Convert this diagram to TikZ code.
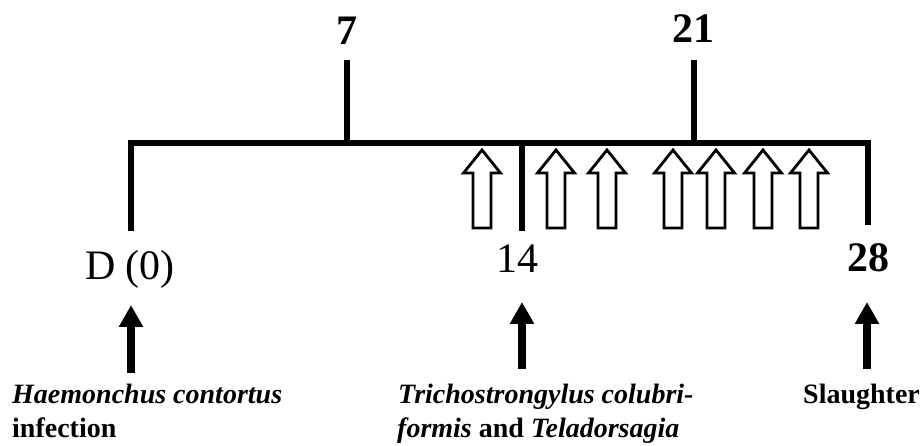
\documentclass[tikz,border=0pt]{standalone}
\usepackage{fontspec}
\setmainfont{Liberation Serif}
\usetikzlibrary{arrows.meta}
\begin{document}
\begin{tikzpicture}[x=1pt,y=-1pt,
  timeline/.style={line width=5.5pt,line join=miter,line cap=butt},
  bigarrow/.style={line width=7.5pt,-{Triangle[width=23pt,length=22pt]}},
  daylabel/.style={inner sep=0pt,anchor=base,font=\fontsize{42}{46}\selectfont},
  daybold/.style={daylabel,font=\fontsize{42}{46}\selectfont\bfseries},
  caption/.style={inner sep=0pt,anchor=base west,font=\fontsize{28}{34}\selectfont\bfseries,align=left},
  hollowarrow/.style={draw=black,fill=white,line width=2.8pt,line join=miter},
  hollow/.pic={\path[hollowarrow] (-9,0) -- (-9,-55) -- (-18.5,-55) -- (0,-78) -- (18.5,-55) -- (9,-55) -- (9,0) -- cycle;}
]
\useasboundingbox (0,0) rectangle (921,446);
% timeline coordinates
\coordinate (d0b) at (131,231);
\coordinate (d0t) at (131,143);
\coordinate (d28t) at (868,143);
\coordinate (d28b) at (868,225);
\coordinate (d7t) at (347,60);
\coordinate (d7b) at (347,143);
\coordinate (d21t) at (694,60);
\coordinate (d21b) at (694,143);
\coordinate (d14t) at (522,143);
\coordinate (d14b) at (522,231);
\draw[timeline] (d0b) -- (d0t) -- (d28t) -- (d28b);
\draw[timeline] (d7t) -- (d7b);
\draw[timeline] (d21t) -- (d21b);
\draw[timeline] (d14t) -- (d14b);
% day labels
\node[daybold] (l7) at (347,45) {7};
\node[daybold] (l21) at (693,43) {21};
\node[daylabel] (l0) at (130,280) {D (0)};
\node[daylabel] (l14) at (517,273) {14};
\node[daybold] (l28) at (868,272) {28};
% hollow arrows
\foreach \cx [count=\i] in {482,556,607,673,716,763,809}
  \pic (h\i) at (\cx,228) {hollow};
% black arrows
\coordinate (a0b) at (131,373);
\coordinate (a0t) at (131,305);
\coordinate (a14b) at (522,369);
\coordinate (a14t) at (522,302);
\coordinate (a28b) at (867,369);
\coordinate (a28t) at (867,302);
\draw[bigarrow] (a0b) -- (a0t);
\draw[bigarrow] (a14b) -- (a14t);
\draw[bigarrow] (a28b) -- (a28t);
% captions
\node[caption] (c0) at (12,403) {\itshape Haemonchus contortus};
\node[caption] (c0b) at (12,437) {infection};
\node[caption] (c14) at (398,403) {\itshape Trichostrongylus colubri-};
\node[caption] (c14b) at (397,437) {\itshape formis\/ \upshape and \itshape Teladorsagia};
\node[caption] (c28) at (803,403) {Slaughter};
\end{tikzpicture}
\end{document}
